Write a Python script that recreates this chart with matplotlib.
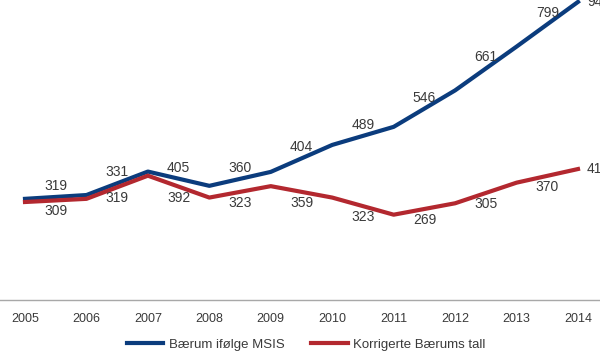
import numpy as np
import matplotlib.pyplot as plt

years = [2005, 2006, 2007, 2008, 2009, 2010, 2011, 2012, 2013, 2014]
msis = [319, 331, 405, 360, 404, 489, 546, 661, 799, 940]
korr = [309, 319, 392, 323, 359, 323, 269, 305, 370, 413]

BLUE = '#0b3c7d'
RED = '#b3282f'
TXT = '#3a3a3a'
plt.rcParams['font.family'] = ['Liberation Sans', 'DejaVu Sans']

fig = plt.figure(figsize=(6, 3.54), dpi=100)
ax = fig.add_axes([0, 1 - 300 / 354, 1, 300 / 354])

ax.plot(years, msis, color=BLUE, lw=3, label='Bærum ifølge MSIS', clip_on=False)
ax.plot(years, korr, color=RED, lw=3, label='Korrigerte Bærums tall', clip_on=False)

# value labels sit between a point and the next one
for vals, dy in ((msis, 11), (korr, -11)):
    for i in range(len(vals) - 1):
        ax.annotate(str(vals[i]), (years[i] + 0.5, (vals[i] + vals[i + 1]) / 2),
                    xytext=(0, dy), textcoords='offset pixels', ha='center',
                    va='center', fontsize=10, color=TXT, annotation_clip=False)
    ax.annotate(str(vals[-1]), (years[-1], vals[-1]), xytext=(9, 0),
                textcoords='offset pixels', ha='left', va='center',
                fontsize=10, color=TXT, annotation_clip=False)

ax.set_xlim(2005 - 25 / 61.44, 2014 + 22 / 61.44)
ax.set_ylim(0, 946)
ax.set_yticks([])
ax.set_xticks(years)
ax.tick_params(axis='x', length=0, pad=9, labelsize=9, labelcolor=TXT)
for s in ('top', 'right', 'left'):
    ax.spines[s].set_visible(False)
ax.spines['bottom'].set_color('#a8a8a8')
ax.spines['bottom'].set_linewidth(1)
ax.patch.set_alpha(0)

fig.legend(loc='lower center', bbox_to_anchor=(0.51, -0.025), ncol=2, frameon=False,
           fontsize=9.5, handlelength=2.8, handletextpad=0.4, columnspacing=2.0,
           labelcolor=TXT)

fig.savefig('out.png', dpi=100)
